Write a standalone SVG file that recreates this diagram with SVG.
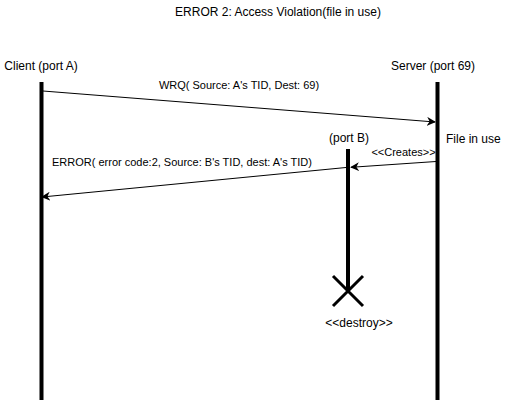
<svg xmlns="http://www.w3.org/2000/svg" width="515" height="405" viewBox="0 0 515 405">
<defs>
<style>
text{font-family:"Liberation Sans",Arial,sans-serif;fill:#000;}
.t12{font-size:12px;}
.t11{font-size:11px;}
.life{stroke:#000;stroke-width:4;fill:none;}
.msg{stroke:#000;stroke-width:1;fill:none;}
</style>
<marker id="arr" viewBox="0 0 10 10" refX="9" refY="5" markerWidth="9" markerHeight="9" markerUnits="userSpaceOnUse" orient="auto">
<path d="M0,0 L10,5 L0,10 L3,5 Z" fill="#000"/>
</marker>
</defs>
<rect width="515" height="405" fill="#fff"/>
<text class="t12" x="278" y="16" text-anchor="middle">ERROR 2: Access Violation(file in use)</text>
<g id="client">
<text class="t12" x="41" y="70" text-anchor="middle">Client (port A)</text>
<line class="life" x1="41.5" y1="82" x2="41.5" y2="400"/>
</g>
<g id="server">
<text class="t12" x="433" y="70" text-anchor="middle">Server (port 69)</text>
<line class="life" x1="437.5" y1="82" x2="437.5" y2="400"/>
<text class="t12" x="446" y="143">File in use</text>
</g>
<g id="portB">
<text class="t12" x="349" y="142" text-anchor="middle">(port B)</text>
<line class="life" x1="348" y1="149" x2="348" y2="291"/>
<path d="M333,276 L363,306 M363,276 L333,306" stroke="#000" stroke-width="3" fill="none"/>
<text class="t12" x="359" y="327" text-anchor="middle">&lt;&lt;destroy&gt;&gt;</text>
</g>
<g id="connectors">
<line class="msg" x1="43" y1="91" x2="435" y2="122" marker-end="url(#arr)"/>
<text class="t11" x="239" y="89" text-anchor="middle">WRQ( Source: A's TID, Dest: 69)</text>
<line class="msg" x1="436" y1="161.5" x2="351" y2="167.3" marker-end="url(#arr)"/>
<text class="t11" x="403.5" y="156" text-anchor="middle">&lt;&lt;Creates&gt;&gt;</text>
<line class="msg" x1="346" y1="167.5" x2="42" y2="197" marker-end="url(#arr)"/>
<text class="t11" x="52" y="166">ERROR( error code:2, Source: B's TID, dest: A's TID)</text>
</g>
</svg>
